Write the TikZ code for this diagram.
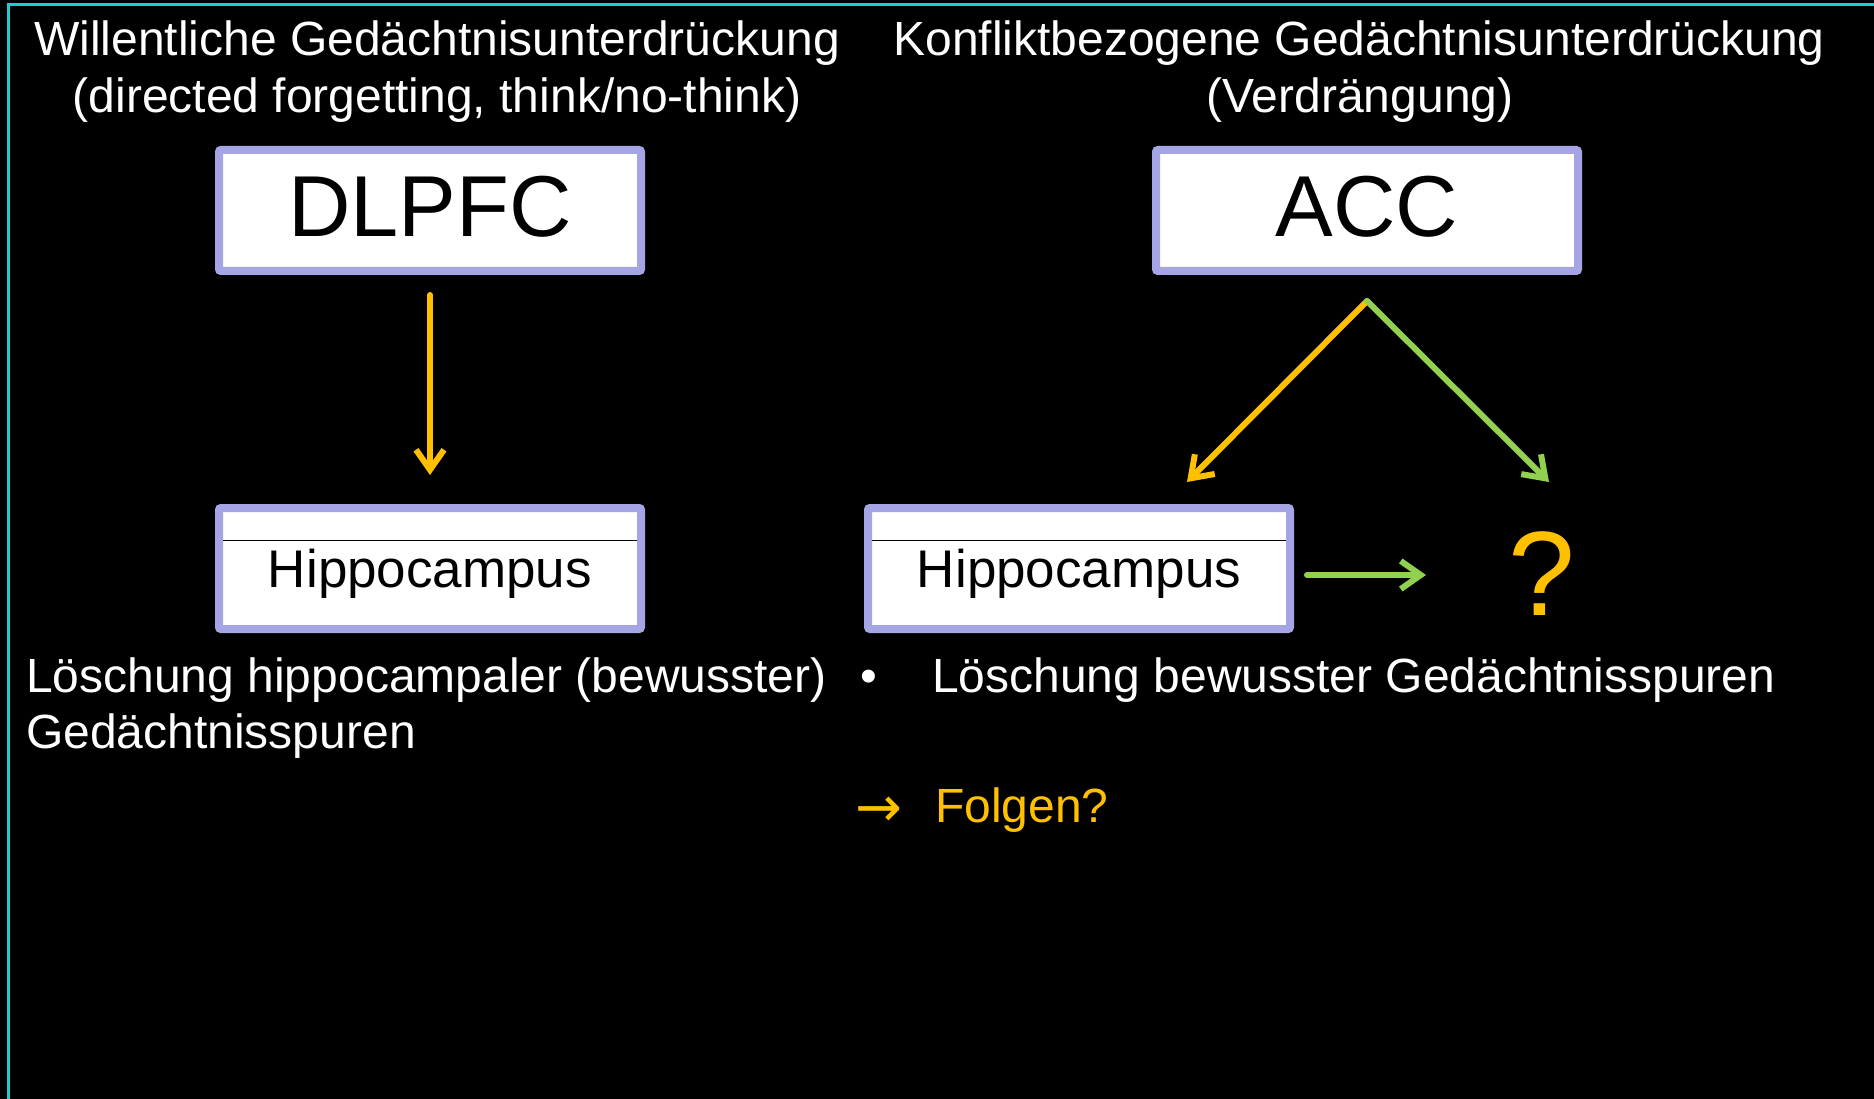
\documentclass[tikz,border=0pt]{standalone}
\usepackage{fontspec}
\setmainfont{Liberation Sans}
\newfontfamily\symfont{DejaVu Sans}
\usetikzlibrary{arrows.meta}
\definecolor{framecol}{RGB}{20,210,210}
\definecolor{boxline}{RGB}{165,165,230}
\definecolor{arrorange}{RGB}{255,192,0}
\definecolor{arrgreen}{RGB}{146,208,80}
\begin{document}
\begin{tikzpicture}[x=1pt,y=-1pt,
  txt/.style={text=white, inner sep=0pt, font=\fontsize{48}{57}\selectfont},
  regionbox/.style={draw=boxline, line width=8pt, fill=white, rounded corners=2pt,
    minimum width=422pt, minimum height=121pt, inner sep=0pt, outer sep=0pt, text=black},
  bigtxt/.style={font=\fontsize{86.5}{86.5}\selectfont, text height=62pt, text depth=10pt},
  hiptxt/.style={font=\fontsize{53}{53}\selectfont, text height=38pt, text depth=0pt},
  conn/.style={line width=6pt, -{Straight Barb[length=20pt,width=28pt]}, line cap=round}
]
\fill[black] (0,0) rectangle (1874,1099);
\useasboundingbox (0,0) rectangle (1874,1099);
\draw[framecol, line width=3pt] (8.5,1110) -- (8.5,4.5) -- (1880,4.5);

% titles
\node[txt, anchor=base] (t1a) at (437,56) {Willentliche Gedächtnisunterdrückung};
\node[txt, anchor=base] (t1b) at (437,113) {(directed forgetting, think/no-think)};
\node[txt, anchor=base] (t2a) at (1359,56) {Konfliktbezogene Gedächtnisunterdrückung};
\node[txt, anchor=base] (t2b) at (1360,113) {(Verdrängung)};

% boxes
\node[regionbox, bigtxt] (dlpfc) at (430,210.5) {DLPFC};
\node[regionbox, bigtxt] (acc) at (1367,210.5) {ACC};
\node[regionbox, hiptxt] (hipl) at (430,568.5) {Hippocampus};
\node[regionbox, hiptxt] (hipr) at (1079,568.5) {Hippocampus};

\path (hipl.west |- 0,540) coordinate (hl1) (hipl.east |- 0,540) coordinate (hl2);
\path (hipr.west |- 0,540) coordinate (hr1) (hipr.east |- 0,540) coordinate (hr2);
\draw[black, line width=1pt] ([xshift=4pt]hl1) -- ([xshift=-4pt]hl2);
\draw[black, line width=1pt] ([xshift=4pt]hr1) -- ([xshift=-4pt]hr2);

% question mark
\node[txt, text=arrorange, font=\fontsize{120}{120}\selectfont, anchor=base] (q) at (1542,615) {?};

% connectors
\draw[conn, arrorange] ([yshift=-24pt]dlpfc.south) -- ([yshift=33pt]hipl.north);
\coordinate (apex) at ([yshift=-30pt]acc.south);
\coordinate (oend) at (1187,482);
\coordinate (gend) at (1549,482);
\draw[conn, arrorange] (apex) -- (oend);
\draw[conn, arrgreen] (apex) -- (gend);
\coordinate (hstart) at ([xshift=17pt,yshift=-6.5pt]hipr.east);
\coordinate (hend) at (1426,575);
\draw[conn, arrgreen] (hstart) -- (hend);

% bottom texts
\node[txt, anchor=base west] (l1) at (26,692) {Löschung hippocampaler (bewusster)};
\node[txt, anchor=base west] (l2) at (26,748) {Gedächtnisspuren};
\node[txt, anchor=base west] (bul) at (860,692) {•};
\node[txt, anchor=base west] (r1) at (932,692) {Löschung bewusster Gedächtnisspuren};
\node[txt, text=arrorange, anchor=base west, font=\symfont\fontsize{56}{56}\selectfont] (arr) at (855,826) {→};
\node[txt, text=arrorange, anchor=base west] (fol) at (935,822) {Folgen?};
\end{tikzpicture}
\end{document}
